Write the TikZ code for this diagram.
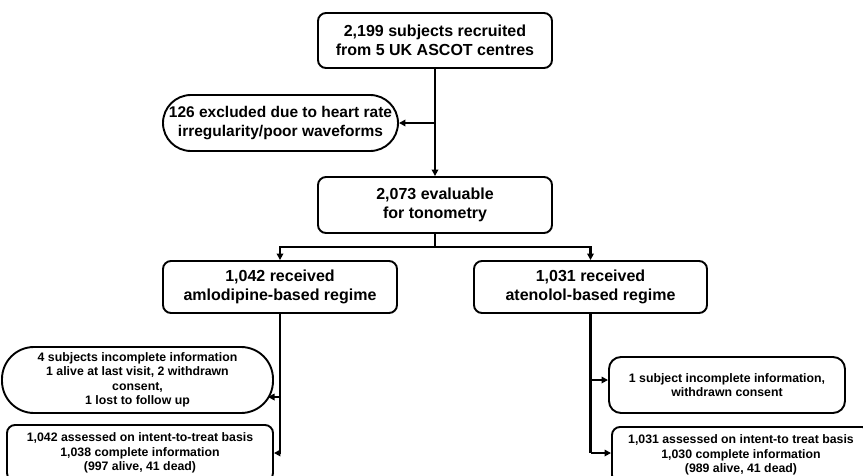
\documentclass[tikz,border=0pt]{standalone}
\usepackage{fontspec}
\setmainfont{Liberation Sans}
\usetikzlibrary{arrows.meta}
\tikzset{
  box/.style={draw, line width=1.9pt, rounded corners=8pt, align=center, inner sep=2pt,
    font=\bfseries\fontsize{16}{19.5}\selectfont},
  smallbox/.style={box, font=\bfseries\fontsize{12.3}{14.5}\selectfont},
  pill/.style={rounded corners=28pt},
  conn/.style={line width=2.1pt},
  arr/.style={conn, -{Triangle[length=6.5pt,width=6.5pt]}},
}
\begin{document}
\begin{tikzpicture}[x=1pt,y=-1pt]
\useasboundingbox (0,0) rectangle (863,475);
\clip (0,0) rectangle (863,475);
\node[box, minimum width=234pt, minimum height=55pt] (top) at (435,40.5) {2,199 subjects recruited\\from 5 UK ASCOT centres};
\node[box, pill, minimum width=235pt, minimum height=56pt, font=\bfseries\fontsize{15.5}{19}\selectfont] (excl) at (280.5,123) {126 excluded due to heart rate\\irregularity/poor waveforms};
\node[box, minimum width=234pt, minimum height=56pt] (eval) at (435,205) {2,073 evaluable\\for tonometry};
\node[box, minimum width=234pt, minimum height=52pt] (aml) at (280,287) {1,042 received\\amlodipine-based regime};
\node[box, minimum width=233pt, minimum height=52pt] (ate) at (590.5,287) {1,031 received\\atenolol-based regime};
\node[smallbox, rounded corners=32pt, minimum width=271pt, minimum height=66pt] (incL) at (137.5,380) {4 subjects incomplete information\\1 alive at last visit, 2 withdrawn\\consent,\\1 lost to follow up};
\node[smallbox, rounded corners=12pt, minimum width=236pt, minimum height=56pt] (incR) at (727,385) {1 subject incomplete information,\\withdrawn consent};
\node[smallbox, minimum width=266pt, minimum height=56pt] (assL) at (140,453) {1,042 assessed on intent-to-treat basis\\1,038 complete information\\(997 alive, 41 dead)};
\node[smallbox, minimum width=258pt, minimum height=56pt] (assR) at (741,455) {1,031 assessed on intent-to treat basis\\1,030 complete information\\(989 alive, 41 dead)};
% connectors
\draw[arr] (top.south) -- (eval.north);
\coordinate (bx) at (top.south |- excl.east);
\draw[arr] (bx) -- (excl.east);
\coordinate (j) at (435,247);
\draw[conn] (eval.south) -- (j);
\draw[arr] (j) -| (aml.north);
\draw[arr] (j) -| (ate.north);
\coordinate (jL1) at (280,397);
\coordinate (tL1) at (268,397);
\draw[arr] (aml.south) |- (assL.east);
\draw[arr] (jL1) -- (tL1);
\coordinate (jR1) at (590.5,380);
\coordinate (jR2) at (590.5,453);
\draw[conn] (ate.south) -- (jR2);
\draw[arr] (jR1) -- (incR.west |- jR1);
\draw[arr] (jR2) -- (assR.west |- jR2);
\end{tikzpicture}
\end{document}
